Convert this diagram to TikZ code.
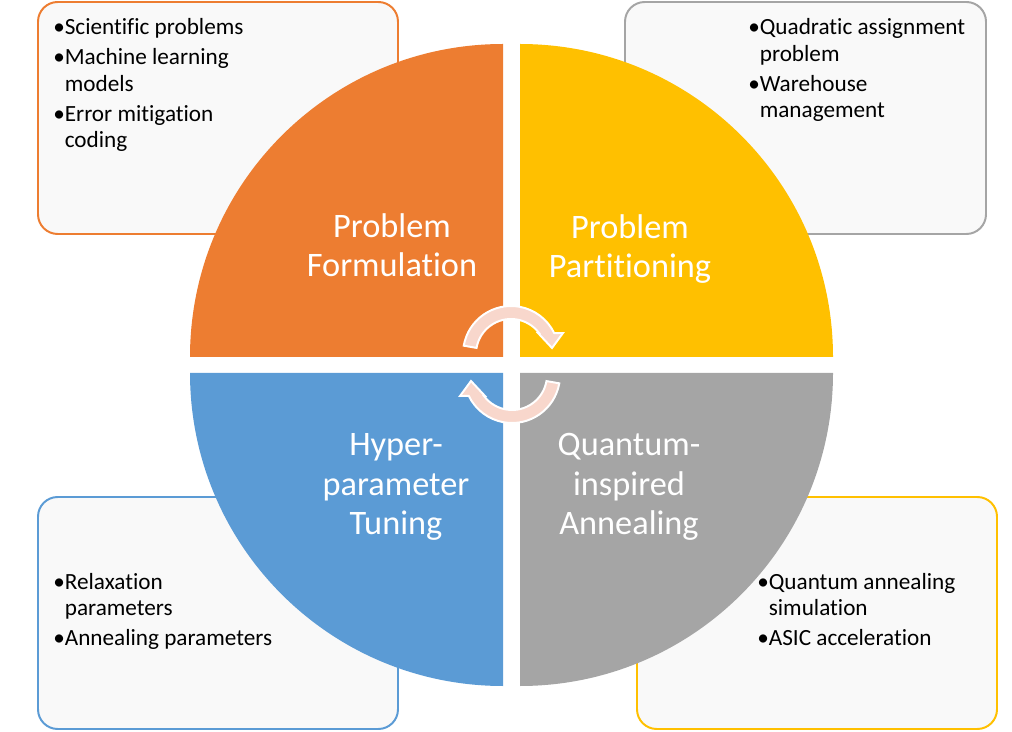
\documentclass[tikz,border=0pt]{standalone}
\usepackage{fontspec}
\setmainfont[Ligatures=NoCommon]{Carlito}

\definecolor{qorange}{RGB}{237,125,49}
\definecolor{qyellow}{RGB}{255,192,0}
\definecolor{qblue}{RGB}{91,155,213}
\definecolor{qgray}{RGB}{165,165,165}
\definecolor{boxfill}{RGB}{249,249,249}
\definecolor{cyclepink}{RGB}{248,215,204}

\newcommand{\blt}{\textbullet\hspace{1.5pt}}

\tikzset{
    infobox/.style={fill=boxfill, line width=1.4pt, rounded corners=14pt},
    qlabel/.style={text=white, align=center, inner sep=0pt,
        font=\fontsize{24.4}{28}\selectfont},
    blist/.style={anchor=base west, inner sep=0pt,
        font=\fontsize{16.5}{18.8}\selectfont},
    cyclearrow/.style={fill=cyclepink, draw=white, line width=1.4pt}
}

\begin{document}
\begin{tikzpicture}[x=0.025cm, y=0.025cm]
    \useasboundingbox (0,0) rectangle (1012,731);

    % info boxes, partly hidden behind the disc
    \draw[infobox, draw=qorange] (38,497) rectangle (398,729);
    \draw[infobox, draw=qgray]   (625,497) rectangle (986,729);
    \draw[infobox, draw=qblue]   (38,2) rectangle (398,234);
    \draw[infobox, draw=qyellow] (637,2) rectangle (997,234);

    % four quarter discs with a white gap between them
    \foreach \cx/\cy/\a/\col in {503/374/90/qorange, 520/374/0/qyellow,
                                 503/358/180/qblue, 520/358/270/qgray} {
        \fill[\col] (\cx,\cy) -- ++(\a:313) arc[start angle=\a, delta angle=90, radius=313] -- cycle;
    }

    % quadrant titles
    \node[qlabel] (formq)   at (392,485.5) {Problem\\Formulation};
    \node[qlabel] (partq)   at (630,482)   {Problem\\Partitioning};
    \node[qlabel] (tuneq)   at (396,244)   {Hyper-\\parameter\\Tuning};
    \node[qlabel] (annealq) at (629,244)   {Quantum-\\inspired\\Annealing};

    % bullet lists
    \node[blist] (formlist) at (53,696) {\begin{tabular}[t]{@{}l@{}l@{}}
        \blt & Scientific problems\\[2.5pt]
        \blt & Machine learning\\ & models\\[2.5pt]
        \blt & Error mitigation\\ & coding
    \end{tabular}};
    \node[blist] (partlist) at (748,696) {\begin{tabular}[t]{@{}l@{}l@{}}
        \blt & Quadratic assignment\\ & problem\\[2.5pt]
        \blt & Warehouse\\ & management
    \end{tabular}};
    \node[blist] (tunelist) at (53,142) {\begin{tabular}[t]{@{}l@{}l@{}}
        \blt & Relaxation\\ & parameters\\[2.5pt]
        \blt & Annealing parameters
    \end{tabular}};
    \node[blist] (anneallist) at (757,142) {\begin{tabular}[t]{@{}l@{}l@{}}
        \blt & Quantum annealing\\ & simulation\\[2.5pt]
        \blt & ASIC acceleration
    \end{tabular}};

    % two curved arrows in the middle
    \coordinate (topc) at (511,377);
    \coordinate (botc) at (512,356);
    \foreach \c/\r in {topc/0, botc/180} {
        \begin{scope}[shift={(\c)}, rotate=\r]
            \draw[cyclearrow] (170:48) arc[start angle=170, end angle=25.9, radius=48]
                -- (52,21) -- (41,6) -- (27,21) -- (36.9:35)
                arc[start angle=36.9, end angle=170, radius=35] -- cycle;
        \end{scope}
    }
\end{tikzpicture}
\end{document}
